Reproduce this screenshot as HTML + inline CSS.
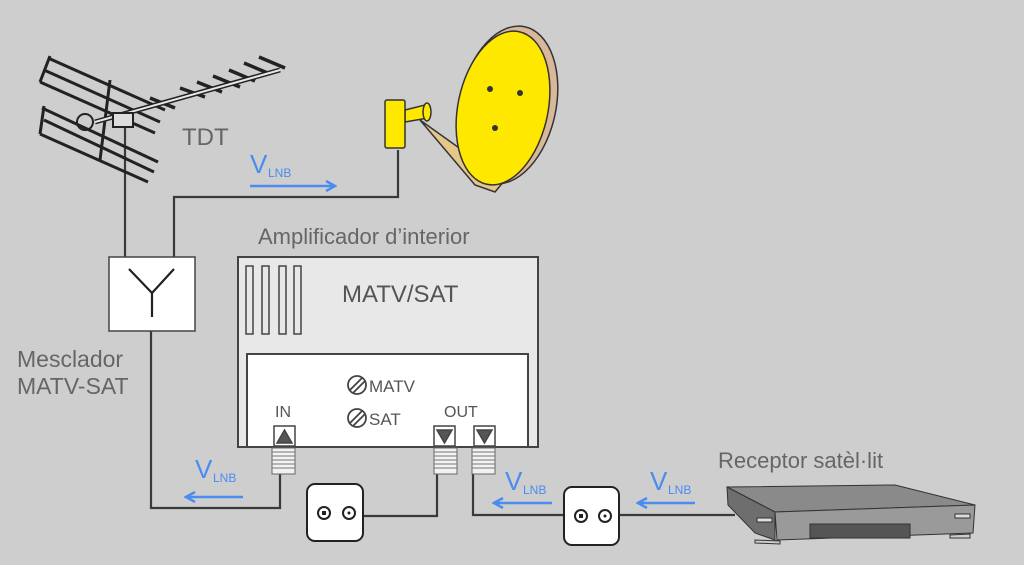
<!DOCTYPE html>
<html><head><meta charset="utf-8"><style>
html,body{margin:0;padding:0;background:#cecece;}
svg{display:block}
text{font-family:"Liberation Sans",sans-serif;}
</style></head><body>
<svg width="1024" height="565" viewBox="0 0 1024 565" xmlns="http://www.w3.org/2000/svg">
<rect width="1024" height="565" fill="#cecece"/>
<defs>
<marker id="ar" markerWidth="12" markerHeight="12" refX="10" refY="6" orient="auto" markerUnits="userSpaceOnUse">
<path d="M1,1 L10,6 L1,11" fill="none" stroke="#4a8cf0" stroke-width="2.5"/>
</marker>
</defs>
<!-- wires -->
<g stroke="#3a3a3a" stroke-width="2.2" fill="none">
<path d="M125,118 V257"/>
<path d="M174,257 V197 H398 V150"/>
<path d="M151,331 V508 H280 V474"/>
<path d="M363,516 H437 V474"/>
<path d="M473,474 V515 H564"/>
<path d="M619,515 H735"/>
</g>
<!-- antenna -->
<g stroke="#222" stroke-width="2" fill="none">
<g stroke-width="3">
<path d="M48,58 L165,110"/><path d="M44,70 L160,122"/><path d="M40,82 L155,133"/><path d="M50,56 L40,82"/>
<path d="M42,108 L158,162"/><path d="M44,120 L154,172"/><path d="M40,134 L148,182"/><path d="M44,106 L40,134"/><path d="M110,80 L100,160"/>
</g>
<g stroke-width="3.5">
<path d="M180,88 L205,97"/><path d="M197,82 L222,92"/><path d="M213,76 L240,87"/><path d="M229,70 L255,81"/><path d="M244,63 L270,74"/><path d="M259,57 L285,68"/><path d="M150,98 L175,108"/>
</g>
<path d="M95,122 L280,70" stroke-width="5"/>
<path d="M95,122 L280,70" stroke="#e8e8e8" stroke-width="2"/>
<rect x="113" y="113" width="20" height="14" fill="#ddd"/>
<circle cx="85" cy="122" r="8"/>
</g>
<text x="182" y="145" font-size="24" fill="#666">TDT</text>
<!-- dish -->
<g stroke="#333" stroke-width="1.5">
<path d="M420,120 L475,185 L495,192 L548,128 L552,120 L497,175 Z" fill="#e3c88a"/>
<ellipse cx="508" cy="105" rx="48" ry="80" fill="#d9b79a" transform="rotate(12 508 105)"/>
<ellipse cx="503" cy="108" rx="45" ry="78" fill="#ffe800" transform="rotate(12 503 108)"/>
<path d="M405,110 L425,105 L428,118 L405,122 Z" fill="#ffe800"/>
<ellipse cx="427" cy="112" rx="4" ry="9" fill="#ffe800"/>
<rect x="385" y="100" width="20" height="48" rx="2" fill="#ffe800"/>
</g>
<circle cx="490" cy="89" r="3" fill="#333"/><circle cx="520" cy="93" r="3" fill="#333"/><circle cx="495" cy="128" r="3" fill="#333"/>
<!-- VLNB labels -->
<g fill="#4a8cf0">
<text x="250" y="173" font-size="26">V</text><text x="268" y="177" font-size="12">LNB</text>
<text x="195" y="478" font-size="26">V</text><text x="213" y="482" font-size="12">LNB</text>
<text x="505" y="490" font-size="26">V</text><text x="523" y="494" font-size="12">LNB</text>
<text x="650" y="490" font-size="26">V</text><text x="668" y="494" font-size="12">LNB</text>
</g>
<g stroke="#4a8cf0" stroke-width="2.5" fill="none">
<path d="M250,186 L335,186" marker-end="url(#ar)"/>
<path d="M243,497 L186,497" marker-end="url(#ar)"/>
<path d="M552,503 L494,503" marker-end="url(#ar)"/>
<path d="M695,503 L638,503" marker-end="url(#ar)"/>
</g>
<!-- mixer -->
<rect x="109" y="257" width="86" height="74" fill="#fff" stroke="#444" stroke-width="1.5"/>
<path d="M129,269 L152,293 L174,269 M152,293 V317" stroke="#222" stroke-width="2.2" fill="none"/>
<text x="17" y="367" font-size="23" fill="#666">Mesclador</text>
<text x="17" y="394" font-size="23" fill="#666">MATV-SAT</text>
<!-- amplifier -->
<text x="258" y="244" font-size="22" fill="#666">Amplificador d’interior</text>
<rect x="238" y="257" width="300" height="190" fill="#e8e8e8" stroke="#444" stroke-width="2"/>
<g fill="none" stroke="#444" stroke-width="1.5">
<rect x="246" y="266" width="7" height="68"/><rect x="262" y="266" width="7" height="68"/><rect x="279" y="266" width="7" height="68"/><rect x="294" y="266" width="7" height="68"/>
</g>
<text x="342" y="302" font-size="24" fill="#555">MATV/SAT</text>
<rect x="247" y="354" width="281" height="93" fill="#fff" stroke="#444" stroke-width="2"/>
<g stroke="#444" stroke-width="1.8" fill="none">
<circle cx="357" cy="385" r="9"/><path d="M350,390 L362,378 M353,393 L365,381"/>
<circle cx="357" cy="418" r="9"/><path d="M350,423 L362,411 M353,426 L365,414"/>
</g>
<text x="369" y="392" font-size="17" fill="#555">MATV</text>
<text x="369" y="425" font-size="17" fill="#555">SAT</text>
<text x="275" y="417" font-size="16" fill="#555">IN</text>
<text x="444" y="417" font-size="16" fill="#555">OUT</text>
<g stroke="#444" stroke-width="1.5">
<rect x="274" y="426" width="21" height="20" fill="#fff"/><path d="M277,443 L284.5,430 L292,443 Z" fill="#555"/>
<rect x="434" y="426" width="21" height="20" fill="#fff"/><path d="M437,430 L444.5,443 L452,430 Z" fill="#555"/>
<rect x="474" y="426" width="21" height="20" fill="#fff"/><path d="M477,430 L484.5,443 L492,430 Z" fill="#555"/>
</g>
<!-- threads -->
<g stroke="#666" stroke-width="1" fill="#f2f2f2">
<rect x="272" y="448" width="23" height="26"/><rect x="434" y="448" width="23" height="26"/><rect x="472" y="448" width="23" height="26"/>
</g>
<g stroke="#777" stroke-width="1">
<path d="M272,452H295M272,456H295M272,460H295M272,464H295M272,468H295M434,452H457M434,456H457M434,460H457M434,464H457M434,468H457M472,452H495M472,456H495M472,460H495M472,464H495M472,468H495"/>
</g>
<!-- sockets -->
<g stroke="#222" stroke-width="2" fill="#fff">
<rect x="307" y="484" width="56" height="57" rx="8"/>
<circle cx="324" cy="513" r="6"/><circle cx="349" cy="513" r="6"/>
<rect x="564" y="487" width="55" height="58" rx="8"/>
<circle cx="581" cy="516" r="6"/><circle cx="605" cy="516" r="6"/>
</g>
<rect x="322" y="511" width="4" height="4" fill="#222"/><circle cx="349" cy="513" r="1.5" fill="#222"/>
<rect x="579" y="514" width="4" height="4" fill="#222"/><circle cx="605" cy="516" r="1.5" fill="#222"/>
<!-- receiver -->
<text x="718" y="468" font-size="22" fill="#666">Receptor satèl·lit</text>
<g stroke="#333" stroke-width="1">
<path d="M727,487 L895,485 L975,505 L775,512 Z" fill="#8a8a8a"/>
<path d="M727,487 L775,512 L775,540 L755,533 L728,505 Z" fill="#6e6e6e"/>
<path d="M775,512 L975,505 L973,533 L777,540 Z" fill="#9a9a9a"/>
<rect x="810" y="524" width="100" height="14" fill="#555"/>
<rect x="757" y="518" width="15" height="4" fill="#ddd"/>
<rect x="955" y="514" width="15" height="4" fill="#ddd"/>
<path d="M755,540 L780,541 L780,544 L755,543Z M950,535 L970,534 L970,538 L950,538Z" fill="#ccc"/>
</g>
</svg>
</body></html>
